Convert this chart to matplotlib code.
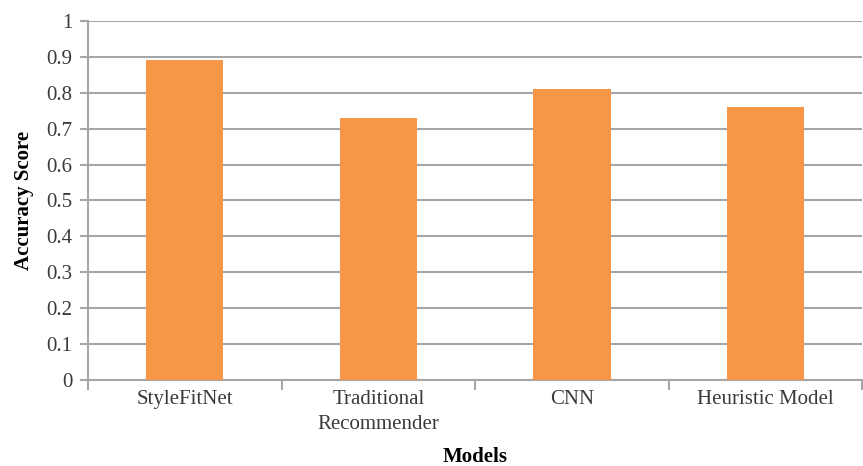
import matplotlib
matplotlib.use("Agg")
import matplotlib.pyplot as plt
import numpy as np

categories = ["StyleFitNet", "Traditional\nRecommender", "CNN", "Heuristic Model"]
values = [0.89, 0.73, 0.81, 0.76]
yticks = [0, 0.1, 0.2, 0.3, 0.4, 0.5, 0.6, 0.7, 0.8, 0.9, 1]
ytick_labels = ["0", "0.1", "0.2", "0.3", "0.4", "0.5", "0.6", "0.7", "0.8", "0.9", "1"]

plt.rcParams['font.family'] = ['Liberation Serif', 'DejaVu Serif']

fig = plt.figure(figsize=(8.63, 4.66), dpi=100)
ax = fig.add_axes([0.102, 0.1845, 0.897, 0.7705])

x = np.arange(len(categories))
ax.bar(x, values, width=0.4, color="#F79646", zorder=3)

ax.set_xlim(-0.5, len(categories) - 0.5)
ax.set_ylim(0, 1)
ax.set_yticks(yticks)
ax.set_yticklabels(ytick_labels, fontsize=15, color="#3a3a3a")
ax.yaxis.grid(True, color="#A6A6A6", linewidth=1.5, zorder=0)

ax.set_xticks(x)
ax.set_xticklabels(categories, fontsize=15, color="#3a3a3a", linespacing=1.45)
ax.tick_params(axis='x', length=0, pad=7)
ax.set_xticks(np.arange(len(categories) + 1) - 0.5, minor=True)
ax.tick_params(axis='x', which='minor', length=7, color="#A6A6A6", width=1.5)
ax.tick_params(axis='y', length=6, color="#A6A6A6", width=1.5, pad=5)

for s in ["top", "right"]:
    ax.spines[s].set_visible(False)
for s in ["left", "bottom"]:
    ax.spines[s].set_color("#A6A6A6")
    ax.spines[s].set_linewidth(1.5)

ax.set_ylabel("Accuracy Score", fontsize=15, fontweight="bold", labelpad=9)
ax.set_xlabel("Models", fontsize=15, fontweight="bold", labelpad=9)

fig.savefig("out.png", dpi=100)
